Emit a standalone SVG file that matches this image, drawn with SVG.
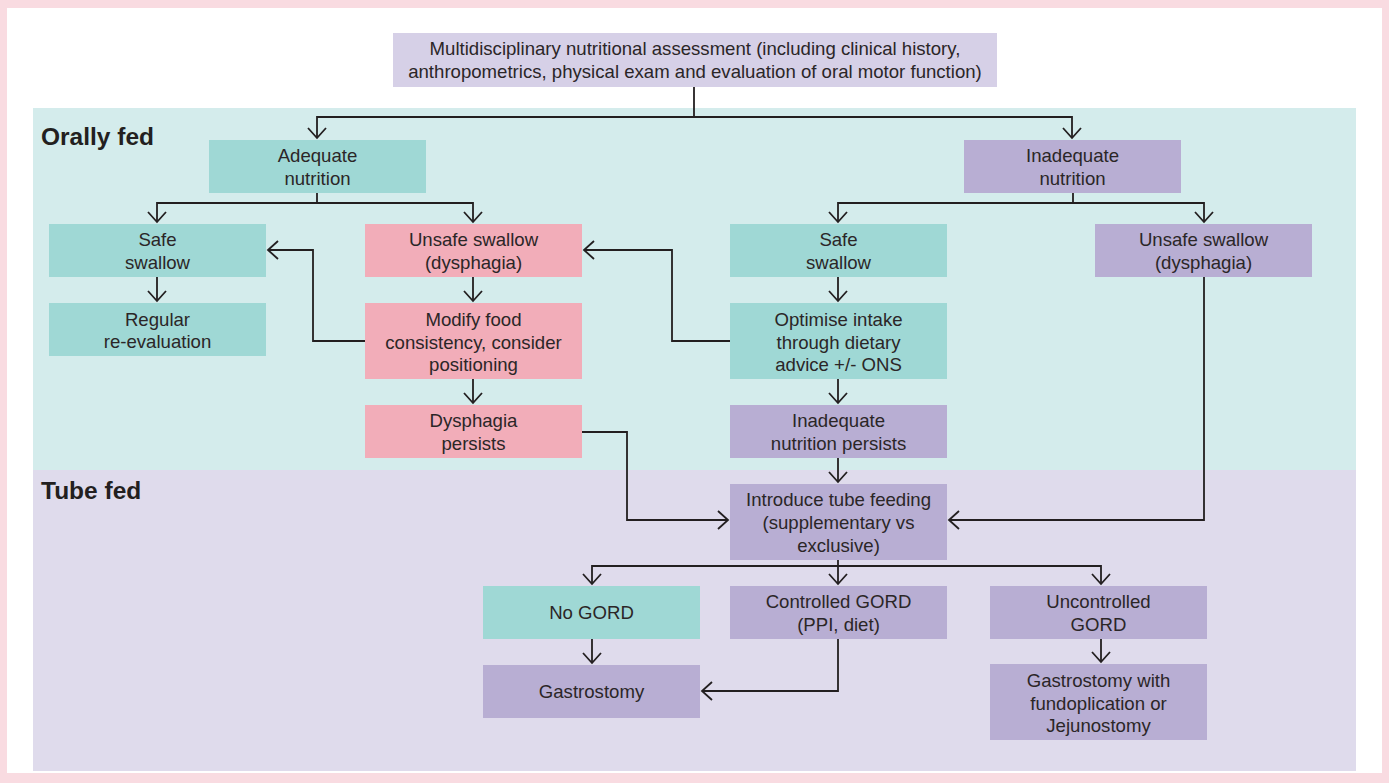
<svg xmlns="http://www.w3.org/2000/svg" width="1389" height="783" viewBox="0 0 1389 783">
<style>
.t{font-family:"Liberation Sans",Arial,sans-serif;font-size:18.6px;fill:#2b2627;text-anchor:middle}
.h{font-family:"Liberation Sans",Arial,sans-serif;font-size:24.5px;font-weight:bold;fill:#231f20}
.teal{fill:#9fd8d5}.pur{fill:#b8aed3}.pink{fill:#f2adb9}.top{fill:#d6d0e7}
.c{fill:none;stroke:#231f20;stroke-width:1.8;marker-end:url(#a)}
.cn{fill:none;stroke:#231f20;stroke-width:1.8}
</style>
<defs>
<marker id="a" viewBox="-12 -11 14 22" markerWidth="14" markerHeight="22" refX="0" refY="0" orient="auto" markerUnits="userSpaceOnUse">
<path d="M-10,-9 L0,0 L-10,9" fill="none" stroke="#231f20" stroke-width="1.8"/>
</marker>
</defs>
<rect width="1389" height="783" fill="#f9dbe1"/>
<rect x="7" y="8" width="1375" height="765" fill="#ffffff"/>
<rect x="33" y="108" width="1323" height="362" fill="#d4ecec"/>
<rect x="33" y="470" width="1323" height="301" fill="#dfdbec"/>
<text class="h" x="41" y="145">Orally fed</text>
<text class="h" x="41" y="499">Tube fed</text>

<g id="connectors">
<path class="cn" d="M694,87 V117"/>
<path class="c" d="M694,117 H317 V138"/>
<path class="c" d="M694,117 H1072 V138"/>
<path class="cn" d="M317,193 V203"/>
<path class="c" d="M317,203 H157 V222"/>
<path class="c" d="M317,203 H473 V222"/>
<path class="cn" d="M1073,193 V203"/>
<path class="c" d="M1073,203 H838 V222"/>
<path class="c" d="M1073,203 H1204 V222"/>
<path class="c" d="M157,277 V301"/>
<path class="c" d="M473,277 V301"/>
<path class="c" d="M838,277 V301"/>
<path class="c" d="M473,379 V403"/>
<path class="c" d="M838,379 V403"/>
<path class="c" d="M365,341 H313 V250 H268"/>
<path class="c" d="M730,341 H672 V250 H584"/>
<path class="c" d="M582,432 H627 V520 H728"/>
<path class="c" d="M1204,277 V520 H949"/>
<path class="c" d="M838,458 V482"/>
<path class="cn" d="M838,560 V566"/>
<path class="c" d="M838,566 H592 V584"/>
<path class="c" d="M838,566 V584"/>
<path class="c" d="M838,566 H1101 V584"/>
<path class="c" d="M592,639 V663"/>
<path class="c" d="M838,639 V691 H702"/>
<path class="c" d="M1101,639 V662"/>
</g>

<g id="n-assess"><rect class="top" x="393" y="33" width="604" height="54"/>
<text class="t" x="695" y="55">Multidisciplinary nutritional assessment (including clinical history,</text>
<text class="t" x="695" y="78">anthropometrics, physical exam and evaluation of oral motor function)</text></g>

<g id="n-adequate"><rect class="teal" x="209" y="140" width="217" height="53"/>
<text class="t" x="317.5" y="162">Adequate</text><text class="t" x="317.5" y="185">nutrition</text></g>

<g id="n-inadequate"><rect class="pur" x="964" y="140" width="217" height="53"/>
<text class="t" x="1072.5" y="162">Inadequate</text><text class="t" x="1072.5" y="185">nutrition</text></g>

<g id="n-safe1"><rect class="teal" x="49" y="224" width="217" height="53"/>
<text class="t" x="157.5" y="246">Safe</text><text class="t" x="157.5" y="269">swallow</text></g>

<g id="n-unsafe1"><rect class="pink" x="365" y="224" width="217" height="53"/>
<text class="t" x="473.5" y="246">Unsafe swallow</text><text class="t" x="473.5" y="269">(dysphagia)</text></g>

<g id="n-safe2"><rect class="teal" x="730" y="224" width="217" height="53"/>
<text class="t" x="838.5" y="246">Safe</text><text class="t" x="838.5" y="269">swallow</text></g>

<g id="n-unsafe2"><rect class="pur" x="1095" y="224" width="217" height="53"/>
<text class="t" x="1203.5" y="246">Unsafe swallow</text><text class="t" x="1203.5" y="269">(dysphagia)</text></g>

<g id="n-regular"><rect class="teal" x="49" y="303" width="217" height="53"/>
<text class="t" x="157.5" y="326">Regular</text><text class="t" x="157.5" y="348">re-evaluation</text></g>

<g id="n-modify"><rect class="pink" x="365" y="303" width="217" height="76"/>
<text class="t" x="473.5" y="326">Modify food</text><text class="t" x="473.5" y="348.5">consistency, consider</text><text class="t" x="473.5" y="371">positioning</text></g>

<g id="n-optimise"><rect class="teal" x="730" y="303" width="217" height="76"/>
<text class="t" x="838.5" y="326">Optimise intake</text><text class="t" x="838.5" y="348.5">through dietary</text><text class="t" x="838.5" y="371">advice +/- ONS</text></g>

<g id="n-dysphagia"><rect class="pink" x="365" y="405" width="217" height="53"/>
<text class="t" x="473.5" y="427">Dysphagia</text><text class="t" x="473.5" y="450">persists</text></g>

<g id="n-inadpersists"><rect class="pur" x="730" y="405" width="217" height="53"/>
<text class="t" x="838.5" y="427">Inadequate</text><text class="t" x="838.5" y="450">nutrition persists</text></g>

<g id="n-tube"><rect class="pur" x="730" y="484" width="217" height="76"/>
<text class="t" x="838.5" y="506">Introduce tube feeding</text><text class="t" x="838.5" y="529">(supplementary vs</text><text class="t" x="838.5" y="552">exclusive)</text></g>

<g id="n-nogord"><rect class="teal" x="483" y="586" width="217" height="53"/>
<text class="t" x="591.5" y="619">No GORD</text></g>

<g id="n-controlled"><rect class="pur" x="730" y="586" width="217" height="53"/>
<text class="t" x="838.5" y="608">Controlled GORD</text><text class="t" x="838.5" y="631">(PPI, diet)</text></g>

<g id="n-uncontrolled"><rect class="pur" x="990" y="586" width="217" height="53"/>
<text class="t" x="1098.5" y="608">Uncontrolled</text><text class="t" x="1098.5" y="631">GORD</text></g>

<g id="n-gastro"><rect class="pur" x="483" y="665" width="217" height="53"/>
<text class="t" x="591.5" y="698">Gastrostomy</text></g>

<g id="n-gastrofundo"><rect class="pur" x="990" y="664" width="217" height="76"/>
<text class="t" x="1098.5" y="687">Gastrostomy with</text><text class="t" x="1098.5" y="710">fundoplication or</text><text class="t" x="1098.5" y="732">Jejunostomy</text></g>
</svg>
